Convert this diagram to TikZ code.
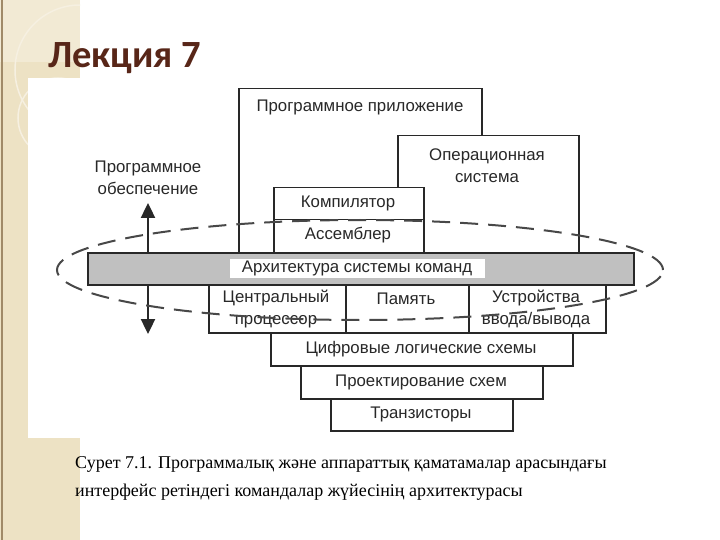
\documentclass[tikz,border=0pt]{standalone}
\usepackage{fontspec}
\setmainfont{Liberation Serif}
\newfontfamily\diagfont{Liberation Sans}
\newfontfamily\titlefont{Carlito}
\usetikzlibrary{positioning,arrows.meta}
\definecolor{beige}{RGB}{237,226,196}
\definecolor{beigetop}{RGB}{242,234,212}
\definecolor{stripline}{RGB}{160,138,104}
\definecolor{swirl}{RGB}{246,240,225}
\definecolor{titlebrown}{RGB}{88,38,24}
\definecolor{ink}{RGB}{40,40,40}
\definecolor{barfill}{RGB}{192,192,192}
\tikzstyle{blk}=[draw=ink, line width=1.5pt, fill=white, inner sep=0, anchor=north west]
\tikzstyle{lbl}=[text=ink, font=\diagfont\fontsize{16.8}{22}\selectfont, align=center, inner sep=0]
\tikzstyle{capt}=[anchor=base west, inner sep=0, font=\fontsize{18}{28}\selectfont]
\tikzstyle{ring}=[draw=ink!85, line width=2pt, dash pattern=on 18pt off 10pt]

\begin{document}
\begin{tikzpicture}[x=1pt, y=-1pt]
\useasboundingbox (0,0) rectangle (720,540);
% slide background
\fill[white] (0,0) rectangle (720,540);
\fill[beige] (0,0) rectangle (80,540);
\fill[beigetop] (0,0) rectangle (80,62);
\begin{scope}
\clip (0,0) rectangle (80,540);
\draw[swirl, line width=1.5pt] (80,70) circle [radius=65pt];
\draw[swirl, line width=1.5pt] (58,118) circle [radius=40pt];
\end{scope}
\draw[stripline, line width=1.2pt] (2,0) -- (2,540);
\fill[white] (28,78) rectangle (720,438);
\node[anchor=base west, inner sep=0, text=titlebrown, font=\titlefont\bfseries\fontsize{38.5}{46}\selectfont] (title) at (48,68) {Лекция 7};

% upper (software) levels
\node[blk, minimum width=243pt, minimum height=164pt] (app) at (238,88) {};
\node[lbl] (appt) at (360,107) {Программное приложение};
\node[blk, minimum width=181pt, minimum height=117pt] (os) at (397,135) {};
\node[lbl] (ost) at (487,166) {Операционная\\система};
\node[blk, minimum width=150pt, minimum height=32pt] (comp) at (273,187) {};
\node[lbl] (compt) at (348,203) {Компилятор};
\node[blk, minimum width=150pt, minimum height=33pt] (asm) at (273,219) {};
\node[lbl] (asmt) at (348,235) {Ассемблер};

% arrow up/down
\coordinate (up) at (148,203);
\coordinate (dn) at (148,334);
\draw[ink, line width=2.4pt, {Triangle[length=15pt,width=14pt]}-{Triangle[length=15pt,width=14pt]}] (dn) -- (up);
\node[lbl] (sw) at (148,178) {Программное\\обеспечение};

% instruction set bar
\node[blk, fill=barfill, minimum width=546pt, minimum height=32pt] (isa) at (87,252) {};
\node[lbl, fill=white, minimum width=255pt, minimum height=19pt] (isat) at (357,268) {Архитектура системы команд};

% lower (hardware) levels
\node[blk, minimum width=137pt, minimum height=48pt] (cpu) at (208,284) {};
\node[lbl] (cput) at (276,309) {Центральный\\процессор};
\node[blk, minimum width=123pt, minimum height=48pt] (mem) at (345,284) {};
\node[lbl] (memt) at (406,299) {Память};
\node[blk, minimum width=137pt, minimum height=48pt] (io) at (468,284) {};
\node[lbl] (iot) at (536,309) {Устройства\\ввода/вывода};
\node[blk, minimum width=302pt, minimum height=33pt] (dig) at (270,332) {};
\node[lbl] (digt) at (421,349) {Цифровые логические схемы};
\node[blk, minimum width=242pt, minimum height=33pt] (des) at (300,365) {};
\node[lbl] (dest) at (421,382) {Проектирование схем};
\node[blk, minimum width=182pt, minimum height=32pt] (tr) at (330,398) {};
\node[lbl] (trt) at (421,414) {Транзисторы};

% dashed interface ring
\draw[ring] (360,270) ellipse [x radius=303pt, y radius=50pt];

% caption
\node[capt] (cap1) at (75,468) {Сурет 7.1. Программалық және аппараттық қаматамалар арасындағы};
\node[capt] (cap2) at (75,496) {интерфейс ретіндегі командалар жүйесінің архитектурасы};
\end{tikzpicture}
\end{document}
